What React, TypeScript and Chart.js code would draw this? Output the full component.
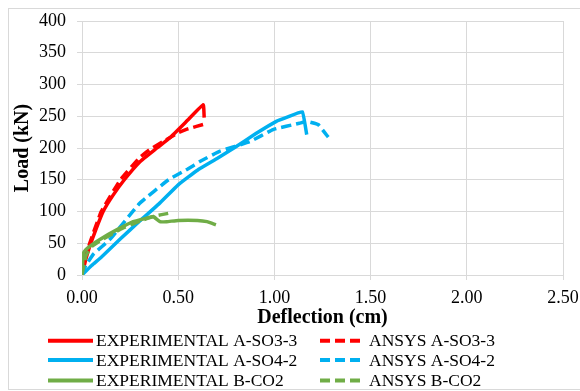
import React, { useEffect, useRef } from "react";
import { Chart, registerables } from "chart.js";

Chart.register(...registerables);

const seriesNames = [
  "EXPERIMENTAL A-SO3-3",
  "ANSYS A-SO3-3",
  "EXPERIMENTAL A-SO4-2",
  "ANSYS A-SO4-2",
  "EXPERIMENTAL B-CO2",
  "ANSYS B-CO2",
];

const xTicks = [0, 0.5, 1.0, 1.5, 2.0, 2.5];
const yTicks = [0, 50, 100, 150, 200, 250, 300, 350, 400];

const expSO33X = [0, 0.02, 0.04, 0.07, 0.11, 0.16, 0.22, 0.3, 0.39, 0.46, 0.55, 0.63, 0.635];
const expSO33Y = [0, 25, 45, 70, 100, 125, 150, 178, 200, 217, 244, 268, 248];

const ansSO33X = [0, 0.02, 0.04, 0.1, 0.2, 0.3, 0.35, 0.42, 0.46, 0.5, 0.55, 0.64];
const ansSO33Y = [0, 30, 50, 100, 150, 185, 197, 210, 217, 224, 230, 238];

const expSO42X = [0, 0.05, 0.1, 0.2, 0.3, 0.4, 0.5, 0.6, 0.7, 0.8, 0.9, 1.01, 1.07, 1.145, 1.168];
const expSO42Y = [0, 15, 28, 57, 85, 112, 142, 165, 183, 202, 222, 242, 249, 257, 221];

const ansSO42X = [0, 0.02, 0.06, 0.145, 0.3, 0.45, 0.55, 0.615, 0.717, 0.872, 0.993, 1.13, 1.167, 1.227, 1.28];
const ansSO42Y = [0, 15, 33, 56, 113, 150, 167, 179, 195, 210, 229, 239, 242, 237, 217];

const expCO2X = [0, 0.007, 0.02, 0.04, 0.093, 0.18, 0.266, 0.33, 0.37, 0.405, 0.44, 0.5, 0.6, 0.65, 0.696];
const expCO2Y = [0, 34, 40, 45, 56, 71, 84, 89, 92, 84, 84, 86, 86, 84, 79];

const ansCO2X = [0, 0.02, 0.05, 0.1, 0.2, 0.3, 0.38, 0.448];
const ansCO2Y = [0, 30, 45, 55, 72, 85, 93, 97];

const seriesColors = ["#FF0000", "#FF0000", "#00B0F0", "#00B0F0", "#70AD47", "#70AD47"];
const seriesDashed = [false, true, false, true, false, true];

const FONT = "'Liberation Serif', 'Times New Roman', serif";

function pts(xs: number[], ys: number[]) {
  return xs.map((x, i) => ({ x, y: ys[i] }));
}

const legendPlugin = {
  id: "customLegend",
  afterDraw(chart: any) {
    const ctx = chart.ctx;
    const rows = [331.7, 351, 371.5];
    const cols = [
      { lx0: 39, lx1: 84, tx: 87 },
      { lx0: 311, lx1: 354, tx: 360 },
    ];
    ctx.save();
    ctx.font = `17.5px ${FONT}`;
    ctx.textBaseline = "middle";
    ctx.textAlign = "left";
    seriesNames.forEach((name, i) => {
      const r = Math.floor(i / 2);
      const c = cols[i % 2];
      const y = rows[r];
      ctx.beginPath();
      ctx.strokeStyle = seriesColors[i];
      ctx.lineWidth = 4;
      ctx.setLineDash(seriesDashed[i] ? [10, 5] : []);
      ctx.moveTo(c.lx0, y);
      ctx.lineTo(c.lx1, y);
      ctx.stroke();
      ctx.setLineDash([]);
      ctx.fillStyle = "#000";
      ctx.fillText(name, c.tx, y + 1);
    });
    ctx.restore();
  },
};

export default function App() {
  const ref = useRef<HTMLCanvasElement | null>(null);

  useEffect(() => {
    document.documentElement.style.overflow = "hidden";
    document.body.style.margin = "8px 0 0 8px";
    if (!ref.current) return;
    const dataArr = [
      pts(expSO33X, expSO33Y),
      pts(ansSO33X, ansSO33Y),
      pts(expSO42X, expSO42Y),
      pts(ansSO42X, ansSO42Y),
      pts(expCO2X, expCO2Y),
      pts(ansCO2X, ansCO2Y),
    ];
    const chart = new Chart(ref.current, {
      type: "scatter",
      data: {
        datasets: seriesNames.map((name, i) => ({
          label: name,
          data: dataArr[i],
          showLine: true,
          order: seriesNames.length - 1 - i,
          borderColor: seriesColors[i],
          backgroundColor: seriesColors[i],
          borderWidth: 3.5,
          borderDash: seriesDashed[i] ? [10, 5] : [],
          pointRadius: 0,
          pointHoverRadius: 0,
          tension: 0.1,
          fill: false,
        })),
      },
      options: {
        responsive: false,
        animation: false,
        layout: { padding: { top: 12, right: 17, bottom: 59, left: 0 } },
        plugins: {
          legend: { display: false },
          tooltip: { enabled: false },
        },
        scales: {
          x: {
            type: "linear",
            min: 0,
            max: 2.5,
            afterBuildTicks: (scale: any) => {
              scale.ticks = xTicks.map((v) => ({ value: v }));
            },
            afterFit: (scale: any) => {
              scale.height = 55;
              scale.paddingLeft = 0;
              scale.paddingRight = 0;
            },
            ticks: {
              font: { family: FONT, size: 18 },
              color: "#000",
              padding: 7,
              callback: (v: any) => Number(v).toFixed(2),
            },
            grid: { color: "#d9d9d9", lineWidth: 1, tickLength: 5 },
            border: { color: "#d9d9d9" },
            title: {
              display: true,
              text: "Deflection (cm)",
              font: { family: FONT, size: 20, weight: "bold" },
              color: "#000",
              padding: { top: 0, bottom: 0 },
            },
          },
          y: {
            type: "linear",
            min: 0,
            max: 400,
            afterBuildTicks: (scale: any) => {
              scale.ticks = yTicks.map((v) => ({ value: v }));
            },
            afterFit: (scale: any) => {
              scale.width = 73;
              scale.paddingTop = 0;
              scale.paddingBottom = 0;
            },
            ticks: {
              font: { family: FONT, size: 18 },
              color: "#000",
              padding: 11,
            },
            grid: { color: "#d9d9d9", lineWidth: 1, tickLength: 5 },
            border: { color: "#d9d9d9" },
            title: {
              display: true,
              text: "Load (kN)",
              font: { family: FONT, size: 20, weight: "bold" },
              color: "#000",
              padding: { top: 2, bottom: 0 },
            },
          },
        },
      },
      plugins: [legendPlugin],
    });
    return () => chart.destroy();
  }, []);

  return (
    <div
      style={{
        position: "relative",
        width: 572,
        height: 382,
        boxSizing: "border-box",
        borderTop: "1px solid #d9d9d9",
        borderLeft: "1px solid #d9d9d9",
        borderBottom: "1px solid #d9d9d9",
      }}
    >
      <canvas ref={ref} width={571} height={380} style={{ display: "block" }} />
    </div>
  );
}
